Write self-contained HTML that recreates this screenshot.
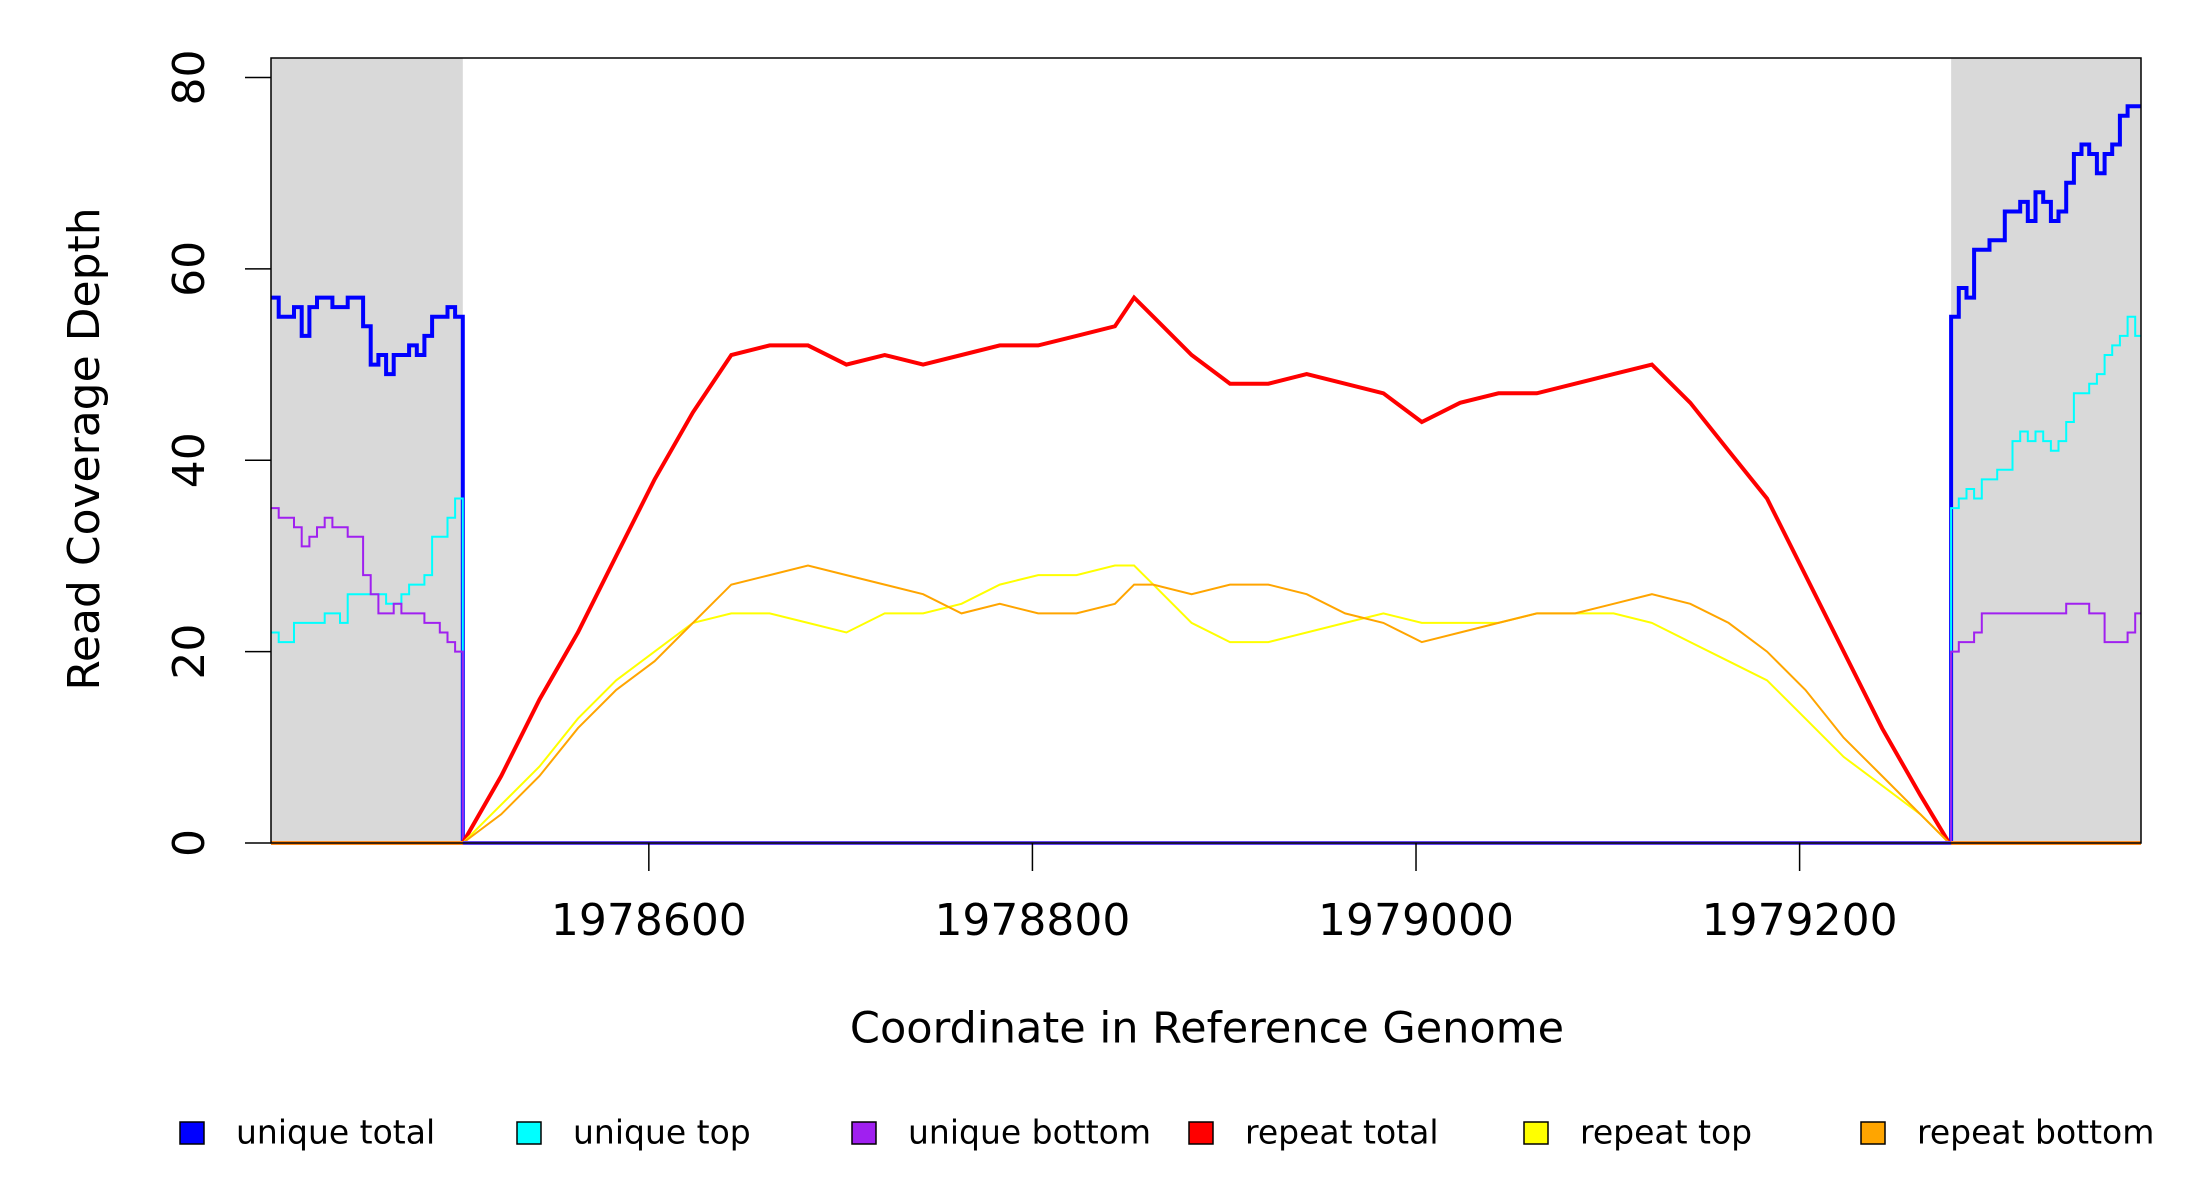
<!DOCTYPE html>
<html><head><meta charset="utf-8"><style>
html,body{margin:0;padding:0;background:#fff;}
svg{display:block;font-family:"DejaVu Sans","Liberation Sans",sans-serif;}
</style></head><body>
<svg id="chart" width="2200" height="1200" viewBox="0 0 2200 1200" xmlns="http://www.w3.org/2000/svg">
<g id="bg"></g>
<g id="series"></g>
<rect x="271" y="58" width="1870" height="785" fill="none" stroke="#000" stroke-width="1.5"/>
<g id="axes"></g>
<text x="87" y="449" font-size="44" text-anchor="middle" transform="rotate(-90 87 449)" dominant-baseline="middle">Read Coverage Depth</text>
<text x="1207" y="1031" font-size="43" text-anchor="middle" dominant-baseline="middle">Coordinate in Reference Genome</text>
<g id="legend"></g>
</svg>
<script>
const xTicks = [1978600, 1978800, 1979000, 1979200];
const yTicks = [0, 20, 40, 60, 80];
const leftPos = [1978403,1978407,1978411,1978415,1978419,1978423,1978427,1978431,1978435,1978439,1978443,1978447,1978451,1978455,1978459,1978463,1978467,1978471,1978475,1978479,1978483,1978487,1978491,1978495,1978499,1978503];
const leftUniqueTotal = [57,55,55,56,53,56,57,57,56,56,57,57,54,50,51,49,51,51,52,51,53,55,55,56,55,54];
const leftUniqueTop = [22,21,21,23,23,23,23,24,24,23,26,26,26,26,26,25,25,26,27,27,28,32,32,34,36,34];
const leftUniqueBottom = [35,34,34,33,31,32,33,34,33,33,32,32,28,26,24,24,25,24,24,24,23,23,22,21,20,20];
const rightPos = [1979279,1979283,1979287,1979291,1979295,1979299,1979303,1979307,1979311,1979315,1979319,1979323,1979327,1979331,1979335,1979339,1979343,1979347,1979351,1979355,1979359,1979363,1979367,1979371,1979375,1979378];
const rightUniqueTotal = [55,58,57,62,62,63,63,66,66,67,65,68,67,65,66,69,72,73,72,70,72,73,76,77,77,77];
const rightUniqueTop = [35,36,37,36,38,38,39,39,42,43,42,43,42,41,42,44,47,47,48,49,51,52,53,55,53,53];
const rightUniqueBottom = [20,21,21,22,24,24,24,24,24,24,24,24,24,24,24,25,25,25,24,24,21,21,21,22,24,24];
const midPos = [1978503,1978523,1978543,1978563,1978583,1978603,1978623,1978643,1978663,1978683,1978703,1978723,1978743,1978763,1978783,1978803,1978823,1978843,1978853,1978863,1978883,1978903,1978923,1978943,1978963,1978983,1979003,1979023,1979043,1979063,1979083,1979103,1979123,1979143,1979163,1979183,1979203,1979223,1979243,1979263,1979278];
const repeatTotal = [0,7,15,22,30,38,45,51,52,52,50,51,50,51,52,52,53,54,57,55,51,48,48,49,48,47,44,46,47,47,48,49,50,46,41,36,28,20,12,5,0];
const repeatTop = [0,4,8,13,17,20,23,24,24,23,22,24,24,25,27,28,28,29,29,27,23,21,21,22,23,24,23,23,23,24,24,24,23,21,19,17,13,9,6,3,0];
const repeatBottom = [0,3,7,12,16,19,23,27,28,29,28,27,26,24,25,24,24,25,27,27,26,27,27,26,24,23,21,22,23,24,24,25,26,25,23,20,16,11,7,3,0];
const legendLabels = ["unique total","unique top","unique bottom","repeat total","repeat top","repeat bottom"];
const legendColors = ["#0000ff","#00ffff","#a020f0","#ff0000","#ffff00","#ffa500"];

const NS = "http://www.w3.org/2000/svg";
const X0 = 1978403, X1 = 1979378, PX0 = 271, PX1 = 2141;
const xs = c => PX0 + (c - X0) * (PX1 - PX0) / (X1 - X0);
const ys = v => 843 - v * (843 - 77.5) / 80;
function mk(tag, attrs, parent) {
  const e = document.createElementNS(NS, tag);
  for (const k in attrs) e.setAttribute(k, attrs[k]);
  parent.appendChild(e);
  return e;
}
const bg = document.getElementById('bg');
const series = document.getElementById('series');
const axes = document.getElementById('axes');
const legend = document.getElementById('legend');

const g1 = mk('rect', {x: xs(1978403), y: 58, width: xs(1978503) - xs(1978403), height: 785, fill: '#d9d9d9'}, bg);


const g2 = mk('rect', {x: xs(1979279), y: 58, width: xs(1979378) - xs(1979279), height: 785, fill: '#d9d9d9'}, bg);



function stepPath(pos, vals) {
  let d = 'M' + xs(pos[0]).toFixed(1) + ' ' + ys(vals[0]).toFixed(1);
  for (let i = 1; i < pos.length; i++) {
    d += ' H' + xs(pos[i]).toFixed(1) + ' V' + ys(vals[i]).toFixed(1);
  }
  return d;
}
function linePath(pos, vals) {
  let d = '';
  for (let i = 0; i < pos.length; i++) {
    d += (i ? ' L' : 'M') + xs(pos[i]).toFixed(1) + ' ' + ys(vals[i]).toFixed(1);
  }
  return d;
}
function uniqueD(lp, lv, rp, rv) {
  let d = stepPath(lp, lv);
  d += ' V' + ys(0).toFixed(1) + ' H' + xs(rp[0]).toFixed(1) + ' V' + ys(rv[0]).toFixed(1);
  d += stepPath(rp, rv).replace(/^M[^H]*/, ' ');
  return d;
}
function repeatD(pos, vals) {
  return 'M' + xs(X0) + ' ' + ys(0) + ' H' + xs(pos[0]) + ' ' + linePath(pos, vals).replace(/^M/, 'L') + ' H' + xs(X1);
}
const p1 = mk('path', {d: uniqueD(leftPos, leftUniqueTotal, rightPos, rightUniqueTotal), fill: 'none', stroke: '#0000ff', 'stroke-width': 4}, series);


const p2 = mk('path', {d: uniqueD(leftPos, leftUniqueTop, rightPos, rightUniqueTop), fill: 'none', stroke: '#00ffff', 'stroke-width': 2}, series);


const p3 = mk('path', {d: uniqueD(leftPos, leftUniqueBottom, rightPos, rightUniqueBottom), fill: 'none', stroke: '#a020f0', 'stroke-width': 2}, series);


const p4 = mk('path', {d: repeatD(midPos, repeatTotal), fill: 'none', stroke: '#ff0000', 'stroke-width': 4}, series);


const p5 = mk('path', {d: repeatD(midPos, repeatTop), fill: 'none', stroke: '#ffff00', 'stroke-width': 2}, series);


const p6 = mk('path', {d: repeatD(midPos, repeatBottom), fill: 'none', stroke: '#ffa500', 'stroke-width': 2}, series);


const zl = mk('line', {x1: xs(1978503), x2: xs(1979279), y1: ys(0), y2: ys(0), stroke: '#6648f2', 'stroke-width': 4}, series);


const zl2 = mk('line', {x1: xs(X0), x2: xs(1978503), y1: ys(0), y2: ys(0), stroke: '#ff8c20', 'stroke-width': 4}, series);


const zl3 = mk('line', {x1: xs(1979279), x2: xs(X1), y1: ys(0), y2: ys(0), stroke: '#ff8c20', 'stroke-width': 4}, series);



xTicks.forEach(t => {
  const l = mk('line', {x1: xs(t), x2: xs(t), y1: 843, y2: 871, stroke: '#000', 'stroke-width': 1.5}, axes);
  
  
  const tx = mk('text', {x: xs(t), y: 923, 'font-size': 44, 'text-anchor': 'middle', 'dominant-baseline': 'middle'}, axes);
  tx.textContent = t;
  
  
});
yTicks.forEach(t => {
  const y = ys(t);
  const l = mk('line', {x1: 245, x2: 271, y1: y, y2: y, stroke: '#000', 'stroke-width': 1.5}, axes);
  
  
  const tx = mk('text', {x: 192, y: y, 'font-size': 44, 'text-anchor': 'middle', 'dominant-baseline': 'middle', transform: 'rotate(-90 192 ' + y + ')'}, axes);
  tx.textContent = t;
  
  
});
const legX = [192, 529, 864, 1201, 1536, 1873];
legendLabels.forEach((lab, i) => {
  const r = mk('rect', {x: legX[i] - 12, y: 1122, width: 24, height: 22, fill: legendColors[i], stroke: '#000', 'stroke-width': 1.5}, legend);
  
  
  const tx = mk('text', {x: legX[i] + 44, y: 1134, 'font-size': 33, 'dominant-baseline': 'middle'}, legend);
  tx.textContent = lab;
  
  
});
</script>
</body></html>
